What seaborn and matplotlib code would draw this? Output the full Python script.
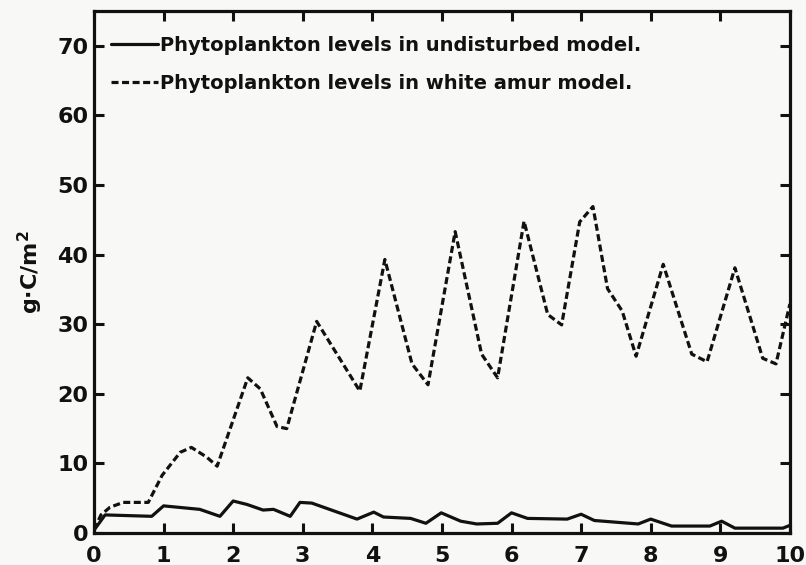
import numpy as np
import pandas as pd
import matplotlib
matplotlib.use("Agg")
import matplotlib.pyplot as plt
import seaborn as sns

# Time axis (years) and phytoplankton biomass (g C / m^2)
undisturbed_x = [0, 0.16, 0.83, 1.0, 1.52, 1.81, 2.0, 2.2, 2.43, 2.58, 2.82, 2.96,
                 3.13, 3.78, 4.02, 4.16, 4.55, 4.77, 4.99, 5.27, 5.5, 5.8, 6.0,
                 6.23, 6.8, 7.0, 7.19, 7.82, 8.0, 8.3, 8.85, 9.02, 9.21, 9.9, 10.0]
undisturbed_y = [0.4, 2.6, 2.4, 3.9, 3.4, 2.4, 4.6, 4.1, 3.3, 3.4, 2.4, 4.4,
                 4.3, 2.0, 3.0, 2.3, 2.1, 1.4, 2.9, 1.7, 1.3, 1.4, 2.9,
                 2.1, 2.0, 2.7, 1.8, 1.3, 2.0, 1.0, 1.0, 1.7, 0.7, 0.7, 1.1]

amur_x = [0, 0.1, 0.23, 0.42, 0.78, 0.98, 1.24, 1.4, 1.62, 1.77, 2.21, 2.39,
          2.63, 2.77, 3.2, 3.82, 4.18, 4.57, 4.8, 5.19, 5.57, 5.8, 6.18,
          6.52, 6.72, 6.98, 7.17, 7.38, 7.59, 7.79, 8.18, 8.59, 8.81, 9.21,
          9.61, 9.8, 10.0]
amur_y = [0.5, 2.6, 3.7, 4.4, 4.4, 8.3, 11.6, 12.3, 10.9, 9.6, 22.3, 20.7,
          15.3, 15.0, 30.4, 20.4, 39.3, 24.3, 21.3, 43.3, 25.7, 22.3, 44.8,
          31.4, 29.9, 44.7, 46.9, 35.1, 31.9, 25.4, 38.6, 25.7, 24.6, 38.1,
          25.1, 24.3, 32.9]

labels = ["Phytoplankton levels in undisturbed model.",
          "Phytoplankton levels in white amur model."]
x_ticks = list(range(0, 11))
y_ticks = list(range(0, 80, 10))

sns.set_style("ticks")
plt.rcParams["font.family"] = ["DejaVu Sans"]
plt.rcParams["font.weight"] = "bold"

undisturbed = pd.DataFrame({"t": undisturbed_x, "c": undisturbed_y})
amur = pd.DataFrame({"t": amur_x, "c": amur_y})

bg = "#f8f8f6"
ink = "#111111"

fig = plt.figure(figsize=(8.06, 5.65), dpi=100, facecolor=bg)
ax = fig.add_axes([0.1166, 0.0566, 0.8634, 0.924])
ax.set_facecolor(bg)

sns.lineplot(data=undisturbed, x="t", y="c", ax=ax, estimator=None, sort=False,
             color=ink, linewidth=2.3, linestyle="-", label=labels[0])
sns.lineplot(data=amur, x="t", y="c", ax=ax, estimator=None, sort=False,
             color=ink, linewidth=2.3, linestyle=(0, (2.2, 1.1)), label=labels[1])

ax.set_xlim(0, 10)
ax.set_ylim(0, 75)
ax.set_xticks(x_ticks)
ax.set_yticks(y_ticks)
ax.set_xticklabels([str(v) for v in x_ticks])
ax.set_yticklabels([str(v) for v in y_ticks])

for side in ["left", "right", "top", "bottom"]:
    ax.spines[side].set_visible(True)
    ax.spines[side].set_linewidth(2.3)
    ax.spines[side].set_color(ink)

ax.tick_params(axis="both", which="major", direction="in", length=7, width=2.2,
               color=ink, top=True, right=True, labelsize=16, labelcolor=ink)
ax.tick_params(axis="x", pad=9)
ax.tick_params(axis="y", pad=4)
for lab in ax.get_xticklabels() + ax.get_yticklabels():
    lab.set_fontweight("bold")

ax.set_xlabel("")
ax.set_ylabel(r"g$\cdot$C/m$^2$", fontsize=16, fontweight="bold", color=ink,
              labelpad=9)

leg = ax.legend(loc="upper left", bbox_to_anchor=(0.0, 0.985), frameon=False,
                fontsize=14, handlelength=2.4, handletextpad=0.1,
                labelspacing=0.95, borderaxespad=0.3, borderpad=0.6)
for txt in leg.get_texts():
    txt.set_fontweight("bold")
    txt.set_color(ink)

fig.savefig("out.png", dpi=100, facecolor=bg)
